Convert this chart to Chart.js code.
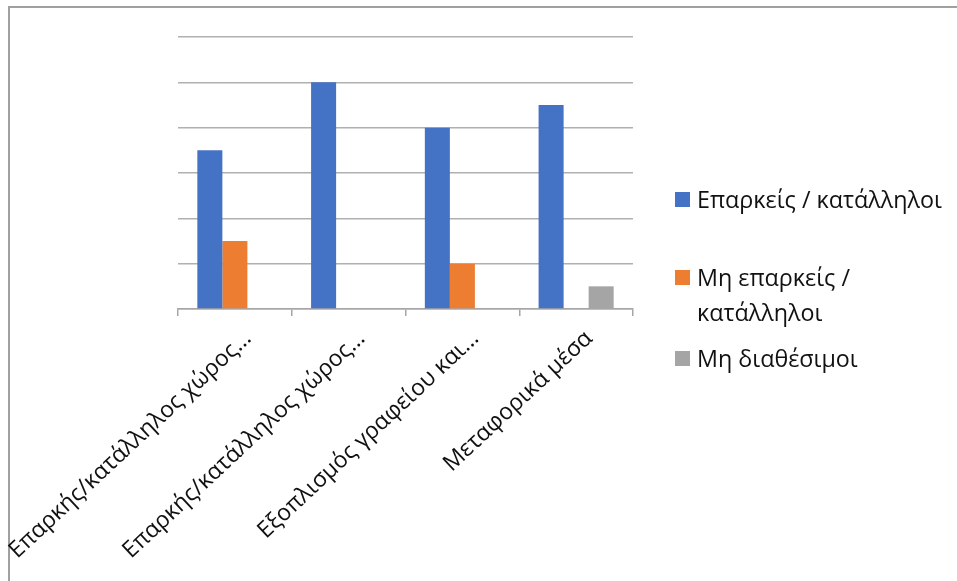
<!DOCTYPE html>
<html>
<head>
<meta charset="utf-8">
<script src="https://cdn.jsdelivr.net/npm/chart.js@4/dist/chart.umd.min.js"></script>
<style>
  html, body { margin: 0; padding: 0; background: #fff; }
  body { width: 957px; height: 581px; position: relative; overflow: hidden; font-family: "Open Sans", sans-serif; }
  #frame { position: absolute; left: 8px; top: 6px; width: 1000px; height: 700px; border-left: 2px solid #a0a0a0; border-top: 2px solid #a0a0a0; box-sizing: border-box; }
  #wrap { position: absolute; left: 0; top: 0; width: 957px; height: 581px; }
  #legend { position: absolute; left: 675px; top: 0; width: 282px; }
  .item { position: absolute; left: 0; display: flex; align-items: flex-start; font-size: 23.3px; line-height: 35px; color: #111; }
  .box { width: 15px; height: 15px; margin-top: 10px; margin-right: 7px; flex: none; }
  .txt { width: 255px; }
</style>
</head>
<body>
<div id="frame"></div>
<div id="wrap"><canvas id="c" width="957" height="581"></canvas></div>
<div id="legend"></div>
<script>
const categories = [
  "Επαρκής/κατάλληλος χώρος…",
  "Επαρκής/κατάλληλος χώρος…",
  "Εξοπλισμός γραφείου και…",
  "Μεταφορικά μέσα"
];
const seriesNames = ["Επαρκείς / κατάλληλοι", "Μη επαρκείς / κατάλληλοι", "Μη διαθέσιμοι"];
const adequate = [3.5, 5, 4, 4.5];
const inadequate = [1.5, 0, 1, 0];
const unavailable = [0, 0, 0, 0.5];
const colors = ["#4472C4", "#ED7D31", "#A5A5A5"];
const legendTops = [182, 260, 341];

const values = [adequate, inadequate, unavailable];
const FONT = "'Open Sans', sans-serif";

new Chart(document.getElementById('c'), {
  type: 'bar',
  data: {
    labels: categories,
    datasets: seriesNames.map((n, i) => ({
      label: n,
      data: values[i],
      backgroundColor: colors[i],
      borderWidth: 0,
      categoryPercentage: 0.66,
      barPercentage: 1.0
    }))
  },
  options: {
    responsive: false,
    animation: false,
    layout: { padding: { left: 178, right: 324, top: 37, bottom: 0 } },
    plugins: { legend: { display: false }, tooltip: { enabled: false } },
    scales: {
      x: {
        afterFit: s => { s.paddingLeft = 0; s.paddingRight = 0; s.height = 272; },
        grid: { offset: true, drawOnChartArea: false, drawTicks: true, tickLength: 7, color: '#a6a6a6', lineWidth: 1.5 },
        border: { display: true, color: '#a6a6a6', width: 1.5 },
        ticks: { minRotation: 43, maxRotation: 43, autoSkip: false, color: '#111', font: { family: FONT, size: 23 }, padding: 9, labelOffset: 13 }
      },
      y: {
        min: 0, max: 6,
        afterFit: s => { s.width = 0; },
        grid: { drawTicks: false, color: '#b0b0b0', lineWidth: 1.5 },
        border: { display: false },
        ticks: { display: false, stepSize: 1 }
      }
    }
  }
});

const lg = document.getElementById('legend');
seriesNames.forEach((n, i) => {
  const d = document.createElement('div');
  d.className = 'item';
  d.style.top = legendTops[i] + 'px';
  d.innerHTML = '<span class="box" style="background:' + colors[i] + '"></span><span class="txt"></span>';
  d.querySelector('.txt').textContent = n;
  lg.appendChild(d);
});
</script>
</body>
</html>
